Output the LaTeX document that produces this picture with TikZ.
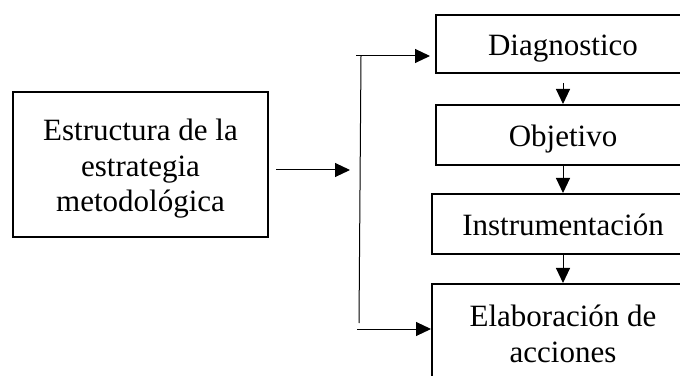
\documentclass[tikz,border=0pt]{standalone}
\usepackage{fontspec}
\setmainfont{Liberation Serif}
\usetikzlibrary{arrows.meta}

\begin{document}
\begin{tikzpicture}[x=1pt,y=1pt,
    caja/.style={draw,line width=2pt,inner sep=0pt,align=center,
        font=\fontsize{31}{35.6}\selectfont},
    paso/.style={caja,minimum width=254pt,minimum height=60pt,
        text height=26pt,text depth=2pt},
    flecha/.style={line width=1pt,-{Triangle[length=15pt,width=14pt]}},
    linea/.style={line width=1pt}]

	\clip (0,0) rectangle (680,375);

	% bloque de la izquierda
	\node (estr) [caja,minimum width=255pt,minimum height=145pt,
	    text height=96pt,text depth=1.6pt] at (140.5,210.5)
	    {Estructura de la\\estrategia\\metodológica};

	% pasos de la derecha
	\node (diag) [paso,minimum height=58pt] at (563,331) {Diagnostico};
	\node (obj) [paso] at (563,240) {Objetivo};
	\node (instr) [paso,minimum width=262pt] at (563,151) {Instrumentación};
	\node (elab) [caja,minimum width=262pt,minimum height=110pt,
	    text height=52pt,text depth=6pt] at (563,36)
	    {Elaboración de\\acciones};

	\coordinate (entrada) at (350,205);
	\coordinate (bus1) at (361,319);
	\coordinate (bus2) at (359,52);
	\coordinate (bus3) at (357,46);

	\draw [flecha] ([xshift=7pt]estr.east |- entrada) -- (entrada);
	\draw [linea] (bus1) -- (bus2);
	\draw [flecha] ([xshift=-5pt]bus1) -- ([xshift=-5pt]diag.west |- bus1);
	\draw [flecha] (bus3) -- (elab.west |- bus3);

	\draw [flecha] ([yshift=-9pt]diag.south) -- (obj.north);
	\draw [flecha] (obj.south) -- (instr.north);
	\draw [flecha] (instr.south) -- (elab.north);

\end{tikzpicture}
\end{document}
